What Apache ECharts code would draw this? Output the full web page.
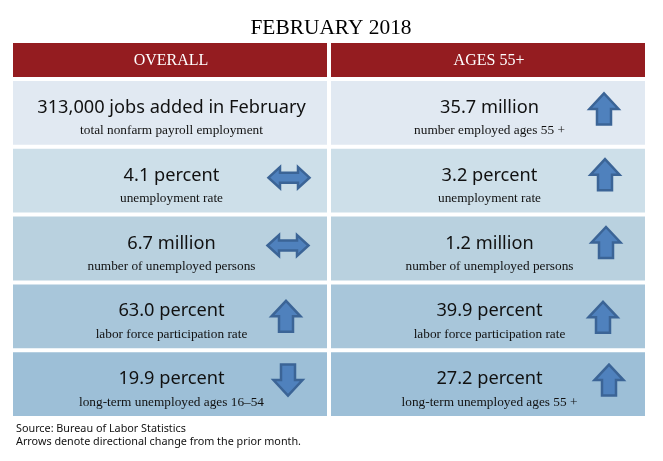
<!DOCTYPE html>
<html>
<head>
<meta charset="utf-8">
<style>
  html, body { margin: 0; background: #fff; }
  #main { width: 663px; height: 461px; }
</style>
<script src="https://cdn.jsdelivr.net/npm/echarts@6/dist/echarts.min.js"></script>
</head>
<body>
<div id="main"></div>
<script>
// chart data
const chartTitle = 'FEBRUARY 2018';
const columns = ['OVERALL', 'AGES 55+'];
const rows = ['payroll', 'rate', 'unemployed', 'participation', 'longTerm'];
const overallValues = ['313,000 jobs added in February', '4.1 percent', '6.7 million', '63.0 percent', '19.9 percent'];
const overallLabels = ['total nonfarm payroll employment', 'unemployment rate', 'number of unemployed persons', 'labor force participation rate', 'long-term unemployed ages 16–54'];
const overallArrows = ['', 'flat', 'flat', 'up', 'down'];
const olderValues = ['35.7 million', '3.2 percent', '1.2 million', '39.9 percent', '27.2 percent'];
const olderLabels = ['number employed ages 55 +', 'unemployment rate', 'number of unemployed persons', 'labor force participation rate', 'long-term unemployed ages 55 +'];
const olderArrows = ['up', 'up', 'up', 'up', 'up'];
const sourceLines = ['Source: Bureau of Labor Statistics', 'Arrows denote directional change from the prior month.'];

// styles
const rowColors = ['#e1e9f2', '#cddfe9', '#b9d1df', '#a8c6da', '#9dbfd7'];
const arrowShift = [
  [[0, 0], [2, -3], [1, -3], [-1, 0], [1, -4]],
  [[-1, -4], [0, -6], [1, -6], [-2, 1], [4, -4]],
];
const gap = 4;

const arrowShapes = {
  up: [[0, -15.5], [14.5, 0], [7, 0], [7, 15.5], [-7, 15.5], [-7, 0], [-14.5, 0]],
  down: [[0, 15.5], [14.5, 0], [7, 0], [7, -15.5], [-7, -15.5], [-7, 0], [-14.5, 0]],
  flat: [[-20.5, 0], [-9, -10.5], [-9, -5], [9, -5], [9, -10.5], [20.5, 0], [9, 10.5], [9, 5], [-9, 5], [-9, 10.5]],
};

const cellData = [];
rows.forEach((row, i) => {
  cellData.push([0, i, overallValues[i], overallLabels[i], overallArrows[i]]);
  cellData.push([1, i, olderValues[i], olderLabels[i], olderArrows[i]]);
});

const renderCell = (params, api) => {
  const col = api.value(0);
  const row = api.value(1);
  const center = api.coord([col, row]);
  const band = api.size([1, 1]);
  const raw = cellData[params.dataIndex];
  const children = [
    {
      type: 'rect',
      shape: { x: center[0] - band[0] / 2 + gap / 2, y: center[1] - band[1] / 2 + gap / 2, width: band[0] - gap, height: band[1] - gap },
      style: { fill: rowColors[row] },
    },
    {
      type: 'text',
      style: {
        x: center[0] + 1.5, y: center[1] - 5, text: raw[2], align: 'center', verticalAlign: 'middle',
        fontFamily: 'Noto Sans', fontSize: 18.2, fill: '#111',
      },
    },
    {
      type: 'text',
      style: {
        x: center[0] + 1.5, y: center[1] + 18, text: raw[3], align: 'center', verticalAlign: 'middle',
        fontFamily: 'Liberation Serif', fontSize: 13.3, fill: '#111',
      },
    },
  ];
  if (raw[4]) {
    const shift = arrowShift[col][row];
    const ax = center[0] + 117 + shift[0];
    const ay = center[1] + shift[1];
    children.push({
      type: 'polygon',
      shape: { points: arrowShapes[raw[4]].map((p) => [ax + p[0], ay + p[1]]) },
      style: { fill: '#4f81bd', stroke: '#3b6496', lineWidth: 2.5 },
    });
  }
  return { type: 'group', children };
};

const renderHeader = (params, api) => {
  const center = api.coord([api.value(0), 0]);
  const band = api.size([1, 1]);
  return {
    type: 'group',
    children: [
      {
        type: 'rect',
        shape: { x: center[0] - band[0] / 2 + gap / 2, y: center[1] - band[1] / 2, width: band[0] - gap, height: band[1] },
        style: { fill: '#941c20' },
      },
      {
        type: 'text',
        style: {
          x: center[0] + 1, y: center[1] + 1, text: columns[api.value(0)], align: 'center', verticalAlign: 'middle',
          fontFamily: 'Liberation Serif', fontSize: 16, fill: '#fff',
        },
      },
    ],
  };
};

const myChart = echarts.init(document.getElementById('main'));

const option = {
  animation: false,
  title: [
    {
      text: chartTitle,
      left: 326,
      top: 13,
      textAlign: 'center',
      textStyle: { fontFamily: 'Liberation Serif', fontSize: 21.4, fontWeight: 'normal', color: '#000' },
    },
    {
      text: sourceLines.join('\n'),
      left: 11,
      top: 417,
      textStyle: { fontFamily: 'Noto Sans', fontSize: 10.8, fontWeight: 'normal', color: '#111', lineHeight: 13 },
    },
  ],
  grid: [
    { left: 11, top: 43, width: 636, height: 34 },
    { left: 11, top: 79, width: 636, height: 339 },
  ],
  xAxis: [
    { type: 'category', data: columns, gridIndex: 0, show: false },
    { type: 'category', data: columns, gridIndex: 1, show: false },
  ],
  yAxis: [
    { type: 'category', data: ['header'], gridIndex: 0, show: false },
    { type: 'category', data: rows, gridIndex: 1, inverse: true, show: false },
  ],
  series: [
    {
      type: 'custom',
      xAxisIndex: 0,
      yAxisIndex: 0,
      renderItem: renderHeader,
      encode: { x: 0, y: 1 },
      data: columns.map((c, i) => [i, 0]),
    },
    {
      type: 'custom',
      xAxisIndex: 1,
      yAxisIndex: 1,
      renderItem: renderCell,
      encode: { x: 0, y: 1 },
      data: cellData,
    },
  ],
};

myChart.setOption(option);
</script>
</body>
</html>
